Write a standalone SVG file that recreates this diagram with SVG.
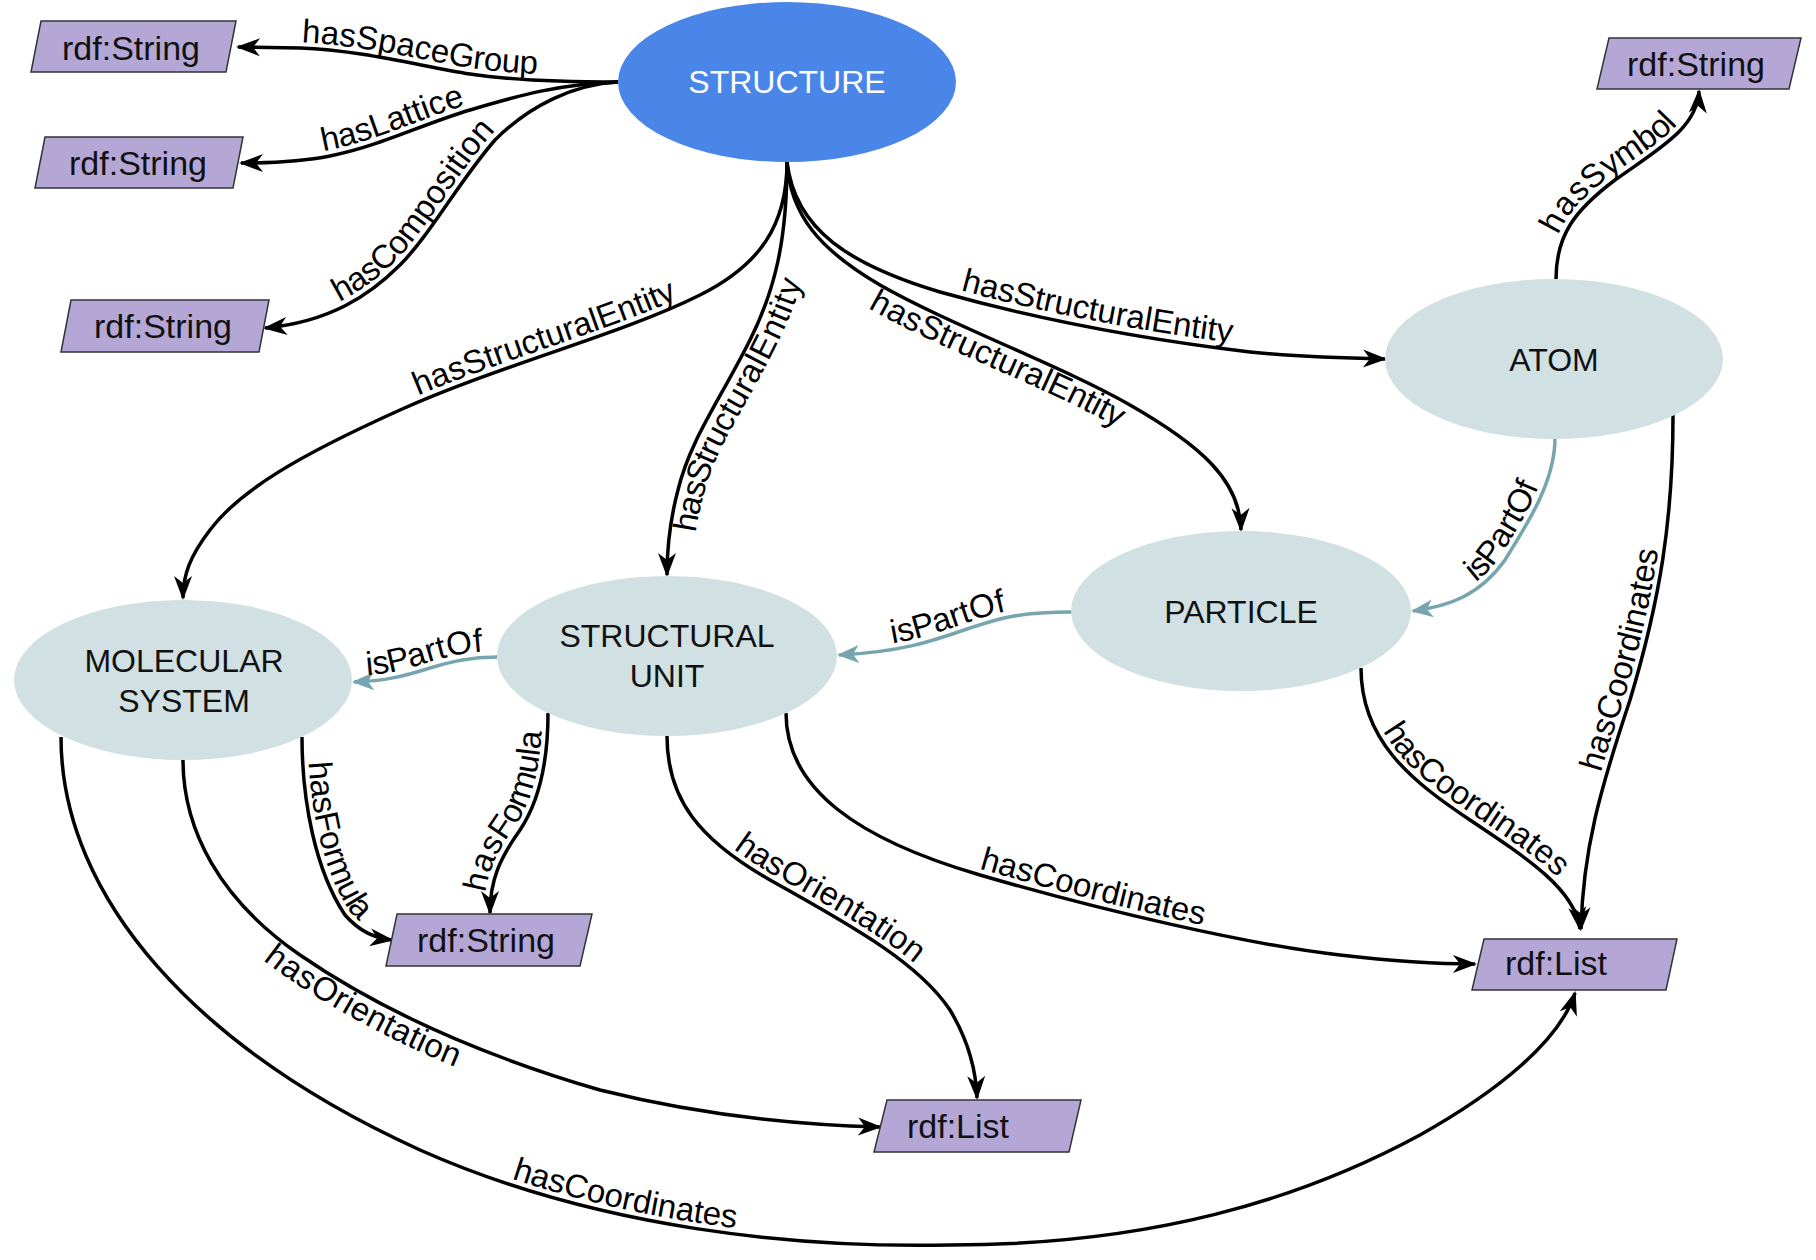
<svg xmlns="http://www.w3.org/2000/svg" xmlns:xlink="http://www.w3.org/1999/xlink" width="1816" height="1260" viewBox="0 0 1816 1260">
<style>
.ell{fill:#d0e0e3}
.ntxt{font-family:"Liberation Sans",Arial,Helvetica,sans-serif;font-size:32px;fill:#111;text-anchor:middle}
.rdf{fill:#b4a7d6;stroke:#333;stroke-width:1.5}
.rtxt{font-family:"Liberation Sans",Arial,Helvetica,sans-serif;font-size:34px;fill:#111;text-anchor:middle}
.e{fill:none;stroke:#000;stroke-width:3.5;marker-end:url(#ah)}
.p{fill:none;stroke:#76a5af;stroke-width:3.5;marker-end:url(#aht)}
.lbl{font-family:"Liberation Sans",Arial,Helvetica,sans-serif;font-size:33px;fill:#000}
</style>
<defs>
<marker id="ah" markerUnits="userSpaceOnUse" markerWidth="30" markerHeight="24" viewBox="-26 -12 30 24" refX="0" refY="0" orient="auto"><path d="M2,0 L-22,-9 L-15,0 L-22,9 Z" fill="#000"/></marker>
<marker id="aht" markerUnits="userSpaceOnUse" markerWidth="30" markerHeight="24" viewBox="-26 -12 30 24" refX="0" refY="0" orient="auto"><path d="M2,0 L-20,-9 L-14,0 L-20,9 Z" fill="#76a5af"/></marker>
<path id="L1" d="M260,47 L290,48 C360,50 420,66 470,74 C500,78 525,80 560,81"/>
<path id="L2" d="M280,162 C300,161 315,159 330,156 C380,146 420,125 470,110 C490,104 505,100 520,96"/>
<path id="L3" d="M290,325 C330,318 370,295 400,265 C430,235 460,180 495,140 C520,112 550,95 580,86"/>
<path id="L4" d="M400,410 C500,365 620,335 700,295"/>
<path id="L5" d="M667,575 C667,545 670,520 678,490 C690,440 720,400 750,340 C765,310 776,285 781,255"/>
<path id="L6" d="M850,268 C860,274 870,280 880,285 C950,325 1060,365 1130,405 C1140,411 1150,417 1160,423"/>
<path id="L7" d="M940,292 C1040,320 1150,340 1250,352"/>
<path id="L8" d="M1556,279 C1556,235 1575,210 1615,180 C1660,148 1697,128 1699,91"/>
<path id="L9" d="M1413,611 C1450,606 1480,595 1505,560 C1530,520 1555,480 1555,438"/>
<path id="L10" d="M839,655 C900,652 930,642 970,628 C1000,618 1020,612 1072,612"/>
<path id="L11" d="M354,682 C385,681 405,676 430,668 C450,662 470,657 497,657"/>
<path id="L12" d="M302,737 C302,800 315,870 345,915 C360,932 375,938 392,940"/>
<path id="L13" d="M490,913 C490,880 500,858 520,830 C540,800 548,760 548,713"/>
<path id="L14" d="M667,736 C667,800 700,840 770,880 C860,930 920,965 950,1010"/>
<path id="L15" d="M183,760 C183,830 220,900 300,955 C380,1010 480,1055 600,1090"/>
<path id="L16" d="M786,713 C786,790 860,840 980,875 C1100,910 1250,945 1340,955"/>
<path id="L17" d="M1361,668 C1361,740 1410,780 1470,820 C1530,860 1575,890 1580,929"/>
<path id="L18" d="M1581,929 C1583,850 1600,790 1630,700 C1660,600 1673,520 1673,415"/>
<path id="L19" d="M420,1150 C600,1230 800,1248 950,1245"/>
</defs>
<rect width="1816" height="1260" fill="#fff"/>

<g id="connectors">
<path class="e" d="M618,82 C560,82 510,80 470,74 C420,66 360,50 300,48 L238,47"/>
<path class="e" d="M618,82 C560,84 520,95 470,110 C420,125 380,146 330,156 C300,162 270,163 241,163"/>
<path class="e" d="M618,82 C575,84 530,105 495,140 C460,180 430,235 400,265 C370,295 330,322 265,328"/>
<path class="e" d="M787,162 C787,225 760,265 700,295 C620,335 500,365 400,410 C300,455 240,490 210,530 C190,556 183,575 183,598"/>
<path class="e" d="M787,162 C787,240 775,290 750,340 C720,400 690,440 678,490 C670,520 667,545 667,575"/>
<path class="e" d="M787,162 C790,215 820,250 880,285 C950,325 1060,365 1130,405 C1200,445 1240,480 1241,530"/>
<path class="e" d="M787,162 C795,230 850,265 940,292 C1040,320 1150,340 1250,352 C1300,357 1340,358 1385,359"/>
<path class="e" d="M1556,279 C1556,235 1575,210 1615,180 C1660,148 1697,128 1699,91"/>
<path class="p" d="M1555,438 C1555,480 1530,520 1505,560 C1480,595 1450,606 1413,611"/>
<path class="p" d="M1072,612 C1020,612 1000,618 970,628 C930,642 900,652 839,655"/>
<path class="p" d="M497,657 C470,657 450,662 430,668 C405,676 385,681 354,682"/>
<path class="e" d="M302,737 C302,800 315,870 345,915 C360,932 375,938 392,940"/>
<path class="e" d="M548,713 C548,760 540,800 520,830 C500,858 490,880 490,913"/>
<path class="e" d="M667,736 C667,800 700,840 770,880 C860,930 920,965 950,1010 C968,1040 976,1070 977,1098"/>
<path class="e" d="M183,760 C183,830 220,900 300,955 C380,1010 480,1055 600,1090 C700,1115 800,1125 880,1127"/>
<path class="e" d="M786,713 C786,790 860,840 980,875 C1100,910 1250,945 1340,955 C1400,962 1440,964 1475,964"/>
<path class="e" d="M1361,668 C1361,740 1410,780 1470,820 C1530,860 1575,890 1580,929"/>
<path class="e" d="M1673,415 C1673,520 1660,600 1630,700 C1600,790 1583,850 1581,929"/>
<path class="e" d="M61,737 C61,900 200,1050 420,1150 C600,1230 800,1248 950,1245 C1150,1245 1300,1200 1420,1135 C1500,1090 1560,1040 1575,993"/>
</g>

<g id="connector-labels" class="lbl">
<text><textPath href="#L1" startOffset="53%" text-anchor="middle"><tspan dy="-6">hasSpaceGroup</tspan></textPath></text>
<text><textPath href="#L2" startOffset="48%" text-anchor="middle"><tspan dy="-6">hasLattice</tspan></textPath></text>
<text><textPath href="#L3" startOffset="45%" text-anchor="middle"><tspan dy="-6">hasComposition</tspan></textPath></text>
<text><textPath href="#L4" startOffset="50%" text-anchor="middle"><tspan dy="-6">hasStructuralEntity</tspan></textPath></text>
<text><textPath href="#L5" startOffset="54%" text-anchor="middle"><tspan dy="26">hasStructuralEntity</tspan></textPath></text>
<text><textPath href="#L6" startOffset="50%" text-anchor="middle"><tspan dy="26">hasStructuralEntity</tspan></textPath></text>
<text><textPath href="#L7" startOffset="50%" text-anchor="middle"><tspan dy="-7">hasStructuralEntity</tspan></textPath></text>
<text><textPath href="#L8" startOffset="50%" text-anchor="middle"><tspan dy="-6">hasSymbol</tspan></textPath></text>
<text><textPath href="#L9" startOffset="54%" text-anchor="middle"><tspan dy="-6">isPartOf</tspan></textPath></text>
<text><textPath href="#L10" startOffset="48%" text-anchor="middle"><tspan dy="-6">isPartOf</tspan></textPath></text>
<text><textPath href="#L11" startOffset="50%" text-anchor="middle"><tspan dy="-6">isPartOf</tspan></textPath></text>
<text><textPath href="#L12" startOffset="47%" text-anchor="middle"><tspan dy="-6">hasFormula</tspan></textPath></text>
<text><textPath href="#L13" startOffset="50%" text-anchor="middle"><tspan dy="-6">hasFormula</tspan></textPath></text>
<text><textPath href="#L14" startOffset="60%" text-anchor="middle"><tspan dy="-6">hasOrientation</tspan></textPath></text>
<text><textPath href="#L15" startOffset="56%" text-anchor="middle"><tspan dy="26">hasOrientation</tspan></textPath></text>
<text><textPath href="#L16" startOffset="60%" text-anchor="middle"><tspan dy="-6">hasCoordinates</tspan></textPath></text>
<text><textPath href="#L17" startOffset="52%" text-anchor="middle"><tspan dy="-6">hasCoordinates</tspan></textPath></text>
<text><textPath href="#L18" startOffset="52%" text-anchor="middle"><tspan dy="-6">hasCoordinates</tspan></textPath></text>
<text><textPath href="#L19" startOffset="39%" text-anchor="middle"><tspan dy="-6">hasCoordinates</tspan></textPath></text>
</g>

<g id="node-structure"><ellipse cx="787" cy="82" rx="169" ry="80" fill="#4a86e8"/><text class="ntxt" x="787" y="93" style="fill:#fff">STRUCTURE</text></g>
<g id="node-atom"><ellipse class="ell" cx="1554" cy="359" rx="169" ry="80"/><text class="ntxt" x="1554" y="371">ATOM</text></g>
<g id="node-particle"><ellipse class="ell" cx="1241" cy="611" rx="170" ry="80"/><text class="ntxt" x="1241" y="623">PARTICLE</text></g>
<g id="node-structural-unit"><ellipse class="ell" cx="667" cy="656" rx="170" ry="80"/><text class="ntxt" x="667" y="647">STRUCTURAL</text><text class="ntxt" x="667" y="687">UNIT</text></g>
<g id="node-molecular-system"><ellipse class="ell" cx="183" cy="680" rx="169" ry="80"/><text class="ntxt" x="184" y="672">MOLECULAR</text><text class="ntxt" x="184" y="712">SYSTEM</text></g>

<g id="node-string-spacegroup"><polygon class="rdf" points="41,21 236,21 226,72 31,72"/><text class="rtxt" x="131" y="60">rdf:String</text></g>
<g id="node-string-lattice"><polygon class="rdf" points="45,137 243,137 233,188 35,188"/><text class="rtxt" x="138" y="175">rdf:String</text></g>
<g id="node-string-composition"><polygon class="rdf" points="71,300 269,300 259,352 61,352"/><text class="rtxt" x="163" y="338">rdf:String</text></g>
<g id="node-string-symbol"><polygon class="rdf" points="1609,38 1801,38 1789,89 1597,89"/><text class="rtxt" x="1696" y="76">rdf:String</text></g>
<g id="node-string-formula"><polygon class="rdf" points="397,914 592,914 580,966 386,966"/><text class="rtxt" x="486" y="952">rdf:String</text></g>
<g id="node-list-orientation"><polygon class="rdf" points="887,1100 1081,1100 1069,1152 874,1152"/><text class="rtxt" x="907" y="1138" style="text-anchor:start">rdf:List</text></g>
<g id="node-list-coordinates"><polygon class="rdf" points="1484,939 1677,939 1666,990 1472,990"/><text class="rtxt" x="1505" y="975" style="text-anchor:start">rdf:List</text></g>
</svg>
